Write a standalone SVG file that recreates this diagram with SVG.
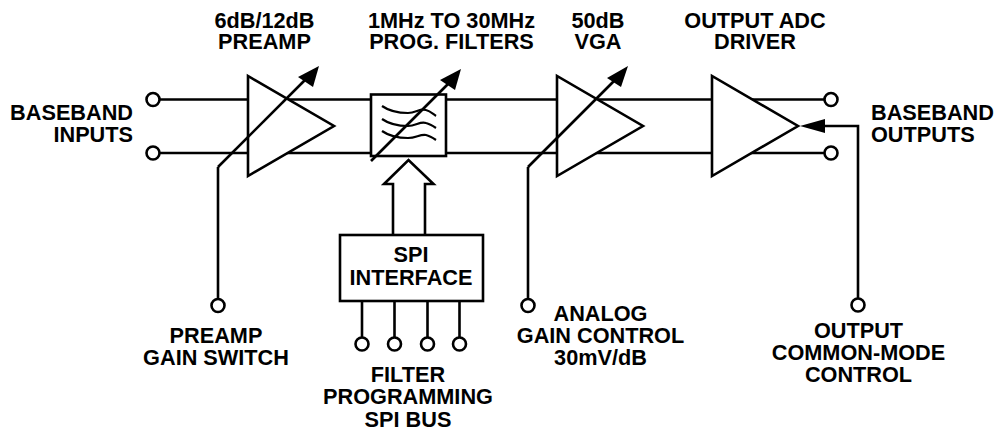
<svg xmlns="http://www.w3.org/2000/svg" width="1000" height="432" viewBox="0 0 1000 432">
<style>
.l{fill:none;stroke:#000;stroke-width:2.6}
.s{fill:#fff;stroke:#000;stroke-width:2.6}
.w{fill:none;stroke:#000;stroke-width:2.2}
.a{fill:#000;stroke:none}
text{font-family:"Liberation Sans",Arial,sans-serif;font-weight:700;font-size:21.7px;fill:#000}
.m{text-anchor:middle}.e{text-anchor:end}
</style>
<rect width="1000" height="432" fill="#fff"/>
<g id="connectors">
<path class="l" d="M160 99.500H830M160 153H830"/>
<path class="l" d="M218 298V167"/>
<path class="l" d="M528 298V167"/>
<path class="l" d="M858 298V126H822"/>
<path class="l" d="M362 301V337M394.500 301V337M427.500 301V337M459.500 301V337"/>
</g>
<g id="preamp"><path class="s" d="M248 76V176L334 126Z"/></g>
<g id="filter">
<rect class="s" x="371" y="94.500" width="75" height="61.500"/>
<path class="w" d="M382 106C392 113 402 113 408 113C416 113 420 108 426 110C430 111 433 114 436 116M382 119C392 126 402 126 408 126C416 126 420 121 426 123C430 124 433 126 436 128M382 131C392 138 402 138 408 138C416 138 420 134 426 135C430 136 433 138 436 140"/>
</g>
<g id="vga"><path class="s" d="M557 76V176L643 126Z"/></g>
<g id="driver"><path class="s" d="M712 76V176L798 126Z"/></g>
<g id="bus-arrow"><path class="s" d="M393 236V184H384L408.500 160L433.500 184H425V236"/></g>
<g id="spi">
<rect class="s" x="340" y="235" width="143" height="66"/>
<text class="m" x="411" y="262">SPI</text>
<text class="m" x="411" y="284.500">INTERFACE</text>
</g>
<g id="arrows">
<path class="l" d="M218 167L305 80"/>
<path class="a" d="M319 66L313 87L298 77Z"/>
<path class="l" d="M371 161L449 83"/>
<path class="a" d="M461 69L455 90L440 80Z"/>
<path class="l" d="M528 167L615 80"/>
<path class="a" d="M628 66L621 87L607 78Z"/>
<path class="a" d="M800 126L825 119V133Z"/>
</g>
<g id="terminals">
<circle class="s" cx="153" cy="99.500" r="6.500"/>
<circle class="s" cx="153" cy="153" r="6.500"/>
<circle class="s" cx="831" cy="99.500" r="6.500"/>
<circle class="s" cx="831" cy="153" r="6.500"/>
<circle class="s" cx="218" cy="305.500" r="6.500"/>
<circle class="s" cx="528" cy="305.500" r="6.500"/>
<circle class="s" cx="858" cy="305" r="6.500"/>
<circle class="s" cx="362" cy="344" r="6.500"/>
<circle class="s" cx="394.500" cy="344" r="6.500"/>
<circle class="s" cx="427.500" cy="344" r="6.500"/>
<circle class="s" cx="459.500" cy="344" r="6.500"/>
</g>
<g id="labels">
<text class="m" x="264.500" y="28">6dB/12dB</text>
<text class="m" x="264.500" y="49">PREAMP</text>
<text class="m" x="451.500" y="28">1MHz TO 30MHz</text>
<text class="m" x="451.500" y="49">PROG. FILTERS</text>
<text class="m" x="598" y="28">50dB</text>
<text class="m" x="598" y="49">VGA</text>
<text class="m" x="755" y="28">OUTPUT ADC</text>
<text class="m" x="755" y="49">DRIVER</text>
<text class="e" x="133" y="119.500">BASEBAND</text>
<text class="e" x="133" y="141.500">INPUTS</text>
<text x="871" y="119.500">BASEBAND</text>
<text x="871" y="141.500">OUTPUTS</text>
<text class="m" x="216" y="343">PREAMP</text>
<text class="m" x="216" y="365">GAIN SWITCH</text>
<text class="m" x="408" y="382">FILTER</text>
<text class="m" x="408" y="404">PROGRAMMING</text>
<text class="m" x="408" y="426.500">SPI BUS</text>
<text class="m" x="600.500" y="321">ANALOG</text>
<text class="m" x="600.500" y="343">GAIN CONTROL</text>
<text class="m" x="600.500" y="365">30mV/dB</text>
<text class="m" x="858.500" y="338">OUTPUT</text>
<text class="m" x="858.500" y="360">COMMON-MODE</text>
<text class="m" x="858.500" y="382">CONTROL</text>
</g>
</svg>
